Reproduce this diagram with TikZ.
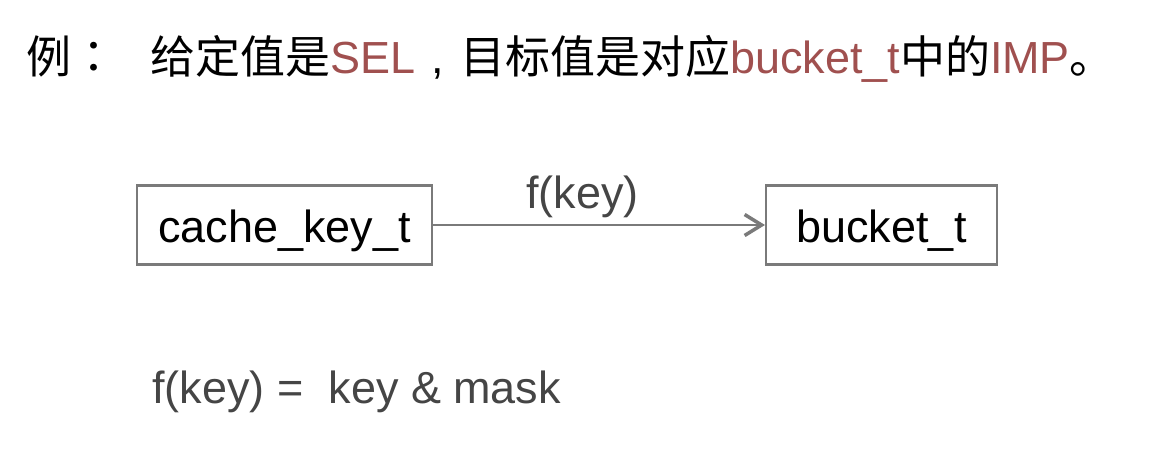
\documentclass[tikz,border=0pt]{standalone}
\usepackage{fontspec}
\setmainfont{Liberation Sans}
\newfontfamily\cjk{Noto Sans CJK SC}
\newfontfamily\cjkpunct{Noto Sans CJK TC}
\usepackage{tikz}
\usetikzlibrary{arrows.meta}
\definecolor{hlred}{HTML}{A0504F}
\definecolor{framegray}{HTML}{7A7A7A}
\definecolor{textgray}{HTML}{454545}
\tikzset{
  bigtext/.style={font=\fontsize{25.6}{30}\selectfont},
  typebox/.style={bigtext, draw=framegray, line width=1.2pt, minimum height=1.58cm, inner sep=0pt,
    text height=20pt, text depth=0pt},
  maparrow/.style={framegray, line width=1.3pt, -{Straight Barb[length=3.4mm,width=4.2mm,line width=2pt]}}
}

\begin{document}
\begin{tikzpicture}[x=0.02cm, y=-0.02cm]
                \useasboundingbox (0,0) rectangle (1150,460);

                % Title line
                \node[bigtext, anchor=base west, inner sep=0pt] (ex) at (26,73) {{\cjk 例}{\cjkpunct ：}};
                \node[bigtext, anchor=base west, inner sep=0pt] (title) at (150,73)
                  {{\cjk 给定值是}\textcolor{hlred}{SEL}\hspace{0.36em},\hspace{0.36em}{\cjk 目标值是对应}\textcolor{hlred}{bucket\_t}{\cjk 中的}\textcolor{hlred}{IMP}{\cjk 。}};

                % Key and bucket
                \node[typebox, minimum width=5.9cm] (key) at (284.5,225) {cache\_key\_t};
                \node[typebox, minimum width=4.62cm] (bucket) at (881.5,225) {bucket\_t};

                % Mapping
                \draw[maparrow] (key) -- (bucket)
                  node[pos=0.45, above, bigtext, textgray, inner sep=0.12cm] (fkey) {f(key)};

                % Hash function
                \node[bigtext, textgray, anchor=base west, inner sep=0pt] (hash) at (152,403) {f(key) =~ key \& mask};
            \end{tikzpicture}
\end{document}
